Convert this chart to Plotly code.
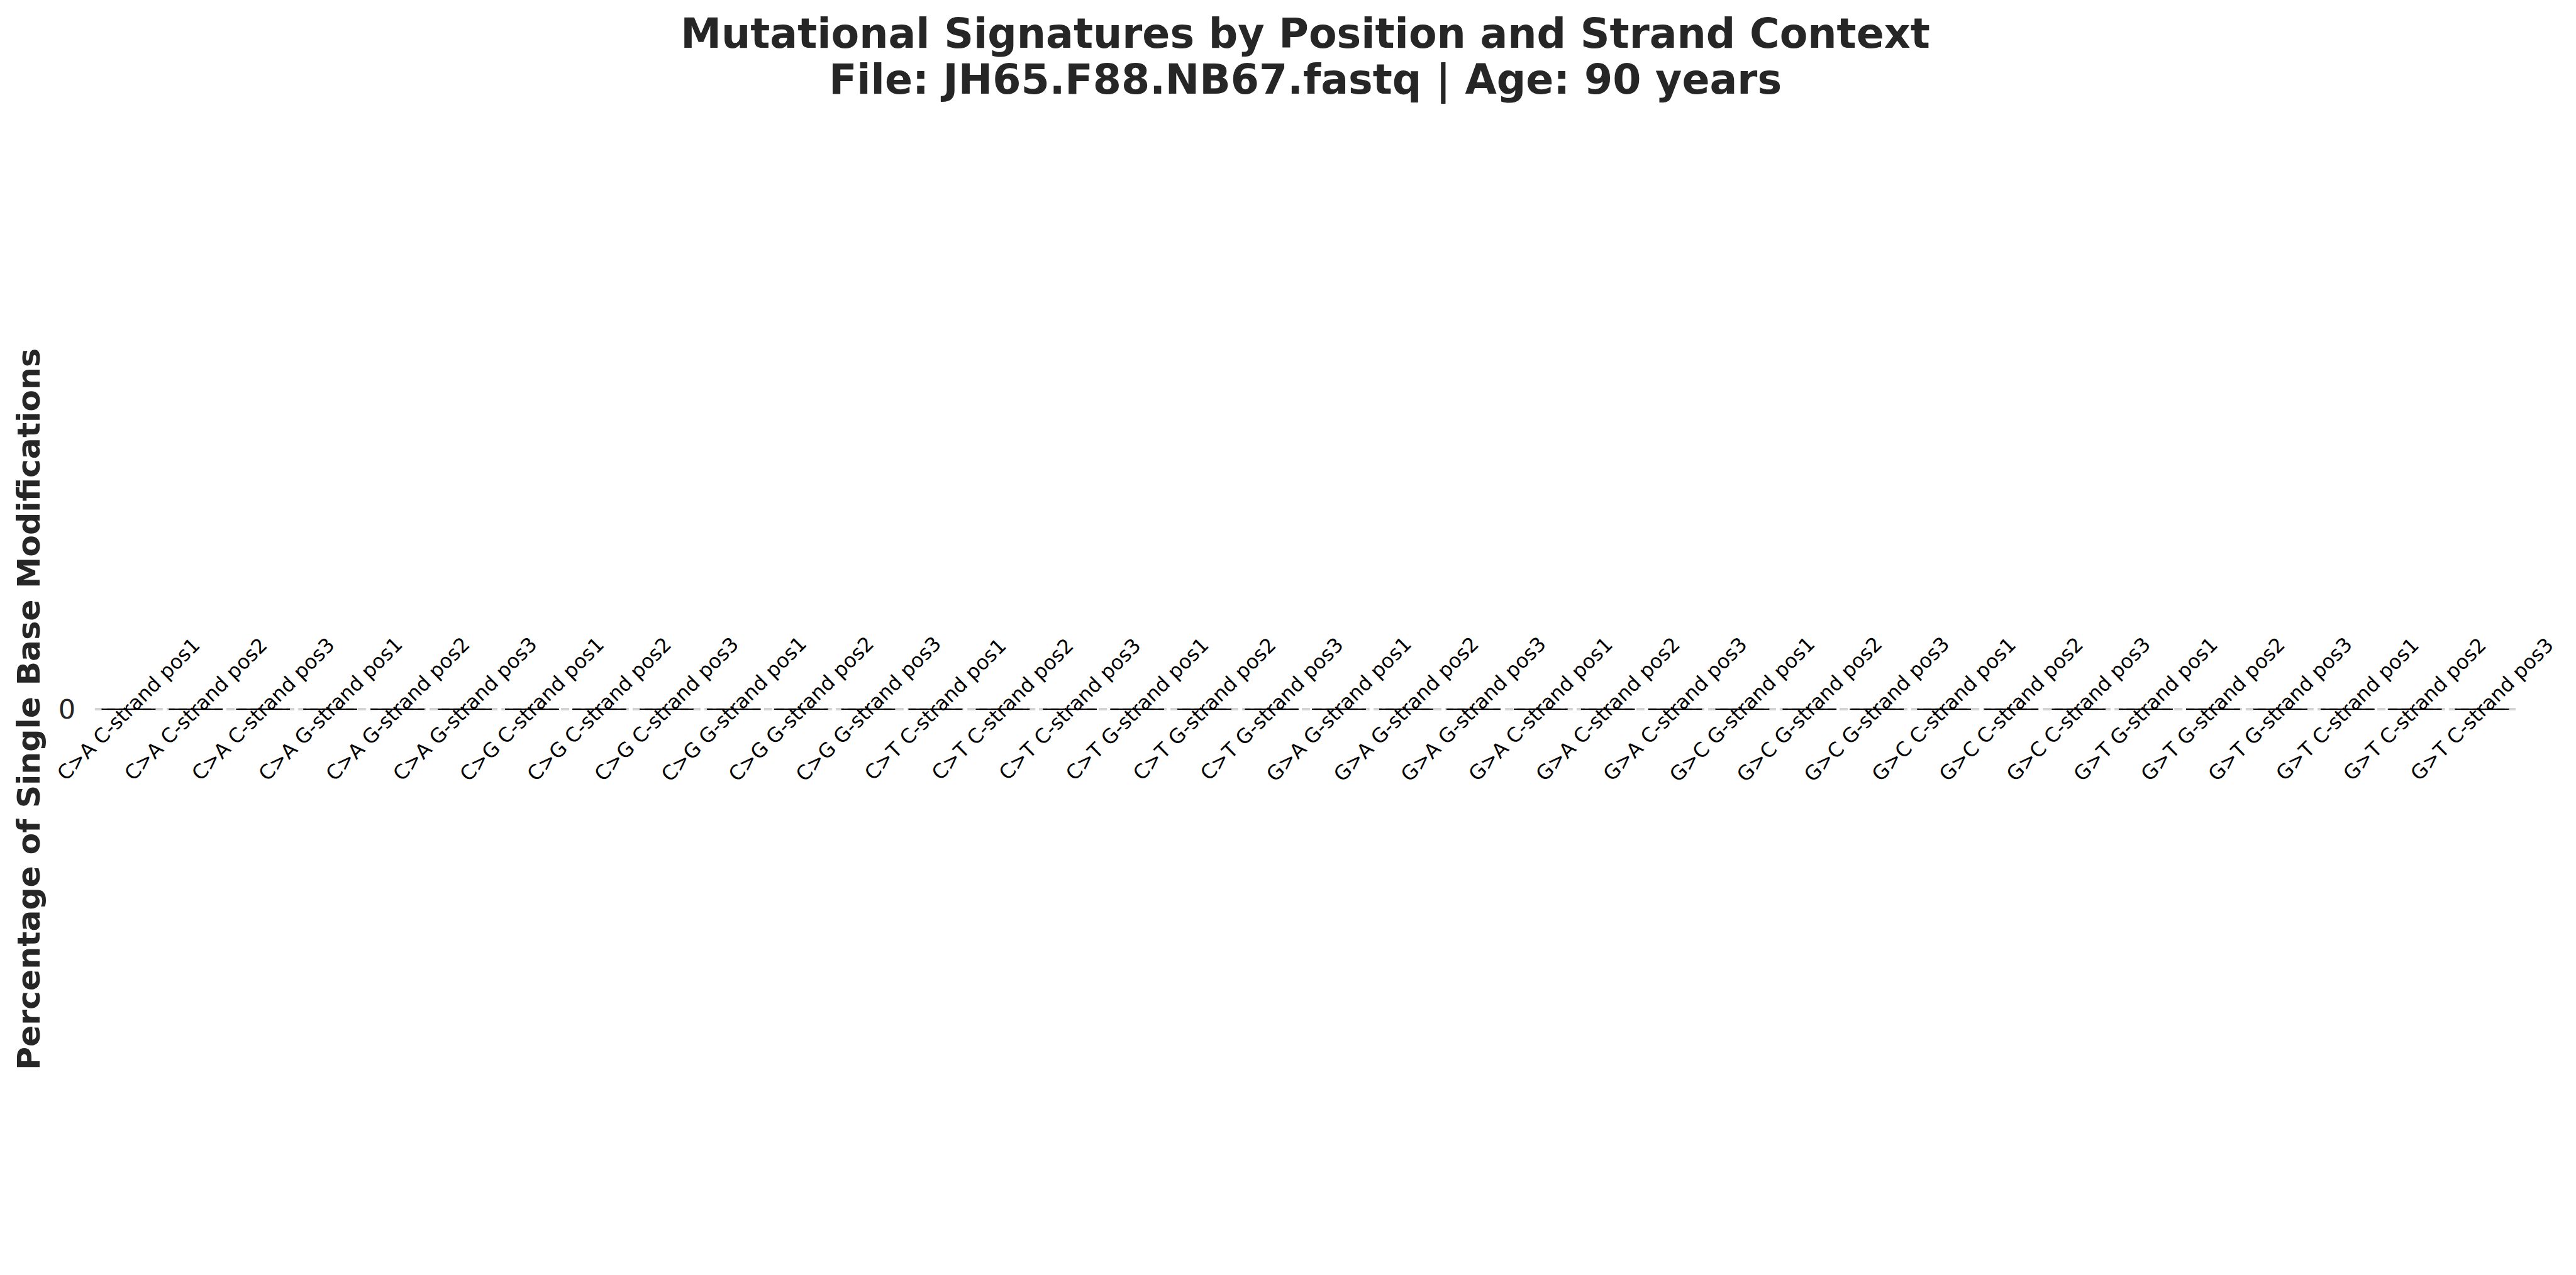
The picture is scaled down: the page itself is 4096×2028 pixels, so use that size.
import plotly.graph_objects as go

# ---------------- data ----------------
mutations = ["C>A", "C>G", "C>T", "G>A", "G>C", "G>T"]
strand_order = {
    "C>A": ["C-strand", "G-strand"],
    "C>G": ["C-strand", "G-strand"],
    "C>T": ["C-strand", "G-strand"],
    "G>A": ["G-strand", "C-strand"],
    "G>C": ["G-strand", "C-strand"],
    "G>T": ["G-strand", "C-strand"],
}
positions = ["pos1", "pos2", "pos3"]

categories = [f"{m} {s} {p}" for m in mutations for s in strand_order[m] for p in positions]
percentages = [0] * len(categories)   # every value in the reference is 0
y_ticks = [0]
y_tick_labels = ["0"]

title_lines = ["Mutational Signatures by Position and Strand Context",
               "File: JH65.F88.NB67.fastq | Age: 90 years"]
y_title = "Percentage of Single Base Modifications"

# ---------------- figure ----------------
W, H = 4096, 2028
FONT = "DejaVu Sans"
DARK = "#262626"
TITLE_PX = 65

title_text = "<br>".join(
    f'<span style="font-size:{TITLE_PX}px">{t}</span>' for t in title_lines)

fig = go.Figure()

fig.add_trace(go.Bar(
    x=categories, y=percentages, width=0.8,
    marker=dict(color="#4c72b0", line=dict(color="black", width=1.8)),
    showlegend=False, hoverinfo="x+y",
))
# zero-height bars: draw their edge line at the bar value
# (line-ew symbol length is 1.4 x size -> 85.5 px bar width)
fig.add_trace(go.Scatter(
    x=categories, y=percentages, mode="markers",
    marker=dict(symbol="line-ew", size=61, color="black",
                line=dict(color="black", width=1.8)),
    showlegend=False, hoverinfo="skip",
))

annotations = []
for c, v in zip(categories, percentages):
    annotations.append(dict(
        x=c, y=v, xref="x", yref="y", text=c, showarrow=False,
        textangle=-45, xanchor="center", yanchor="middle",
        font=dict(family=FONT, size=32, color="black"),
    ))

fig.update_layout(
    width=W, height=H,
    paper_bgcolor="white", plot_bgcolor="white",
    margin=dict(l=151, r=96, t=300, b=72, autoexpand=False),
    title=dict(text=title_text, x=0.5, xanchor="center", xref="paper",
               y=1 - 76 / H, yanchor="top", yref="container",
               font=dict(family=FONT, size=56.2, color=DARK, weight="bold")),
    font=dict(family=FONT, color=DARK),
    annotations=annotations,
    bargap=0.2,
)

fig.update_xaxes(
    range=[-0.5, len(categories) - 0.5],
    showticklabels=False, ticks="", showgrid=False, zeroline=False,
    showline=False,
)
fig.update_yaxes(
    range=[-1, 1],
    tickmode="array", tickvals=y_ticks, ticktext=y_tick_labels,
    tickfont=dict(family=FONT, size=43, color=DARK),
    ticks="", ticklabelstandoff=30,
    showgrid=True, gridcolor="#d4d4d4", gridwidth=3.6, griddash="13px,6px",
    zeroline=False, showline=False,
    title=dict(text=y_title, standoff=12,
               font=dict(family=FONT, size=50.5, color=DARK, weight="bold")),
    automargin=False,
)

fig.write_html("out.html")
